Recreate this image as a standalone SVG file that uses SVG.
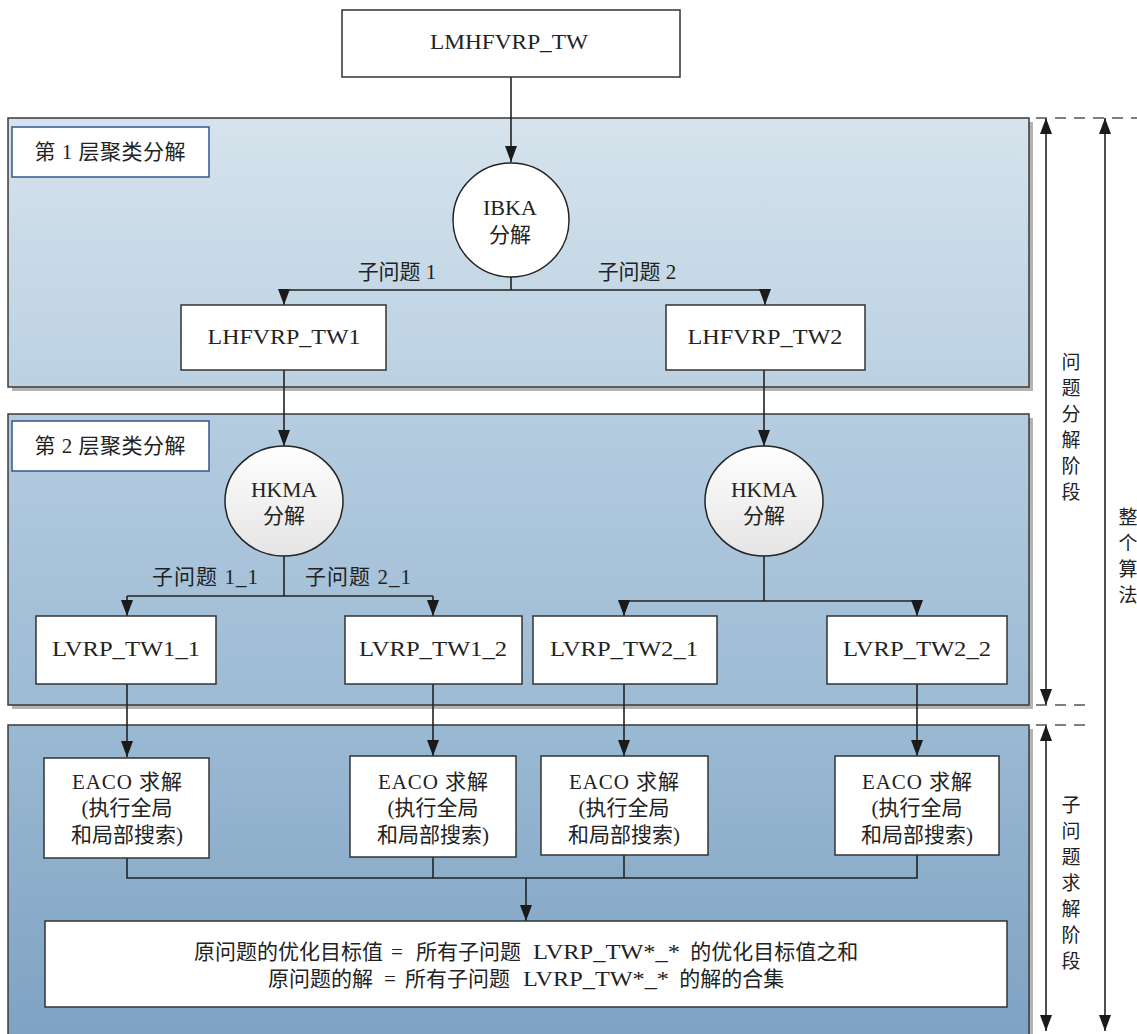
<svg xmlns="http://www.w3.org/2000/svg" width="1137" height="1034" viewBox="0 0 1137 1034">
<defs>
<linearGradient id="g1" x1="0" y1="0" x2="0" y2="1"><stop offset="0" stop-color="#d6e3ed"/><stop offset="1" stop-color="#bbd1e2"/></linearGradient>
<linearGradient id="g2" x1="0" y1="0" x2="0" y2="1"><stop offset="0" stop-color="#b5cce0"/><stop offset="1" stop-color="#9cbbd4"/></linearGradient>
<linearGradient id="g3" x1="0" y1="0" x2="0" y2="1"><stop offset="0" stop-color="#9ab9d3"/><stop offset="1" stop-color="#7ea2c3"/></linearGradient>
<linearGradient id="gc" x1="0" y1="0" x2="0" y2="1"><stop offset="0" stop-color="#ffffff"/><stop offset="1" stop-color="#e4e4e4"/></linearGradient>
<marker id="ah" viewBox="0 0 16 12" refX="16" refY="6" markerWidth="16" markerHeight="12" markerUnits="userSpaceOnUse" orient="auto-start-reverse"><path d="M0,0 L16,6 L0,12 z" fill="#1a1a1a"/></marker>
<style>
.panel{stroke:#3a3a3a;stroke-width:1.5}
.shadow{fill:#b3b3b3}
.box{fill:#fff;stroke:#333;stroke-width:1.5}
.lbl{fill:#fff;stroke:#34568c;stroke-width:1.5}
.circ{stroke:#222;stroke-width:1.5}
text{font-family:"Liberation Serif","Noto Sans CJK SC",serif;font-size:21px;fill:#222;text-anchor:middle}
.st{text-anchor:start}
.v{font-size:19px}
.conn{fill:none;stroke:#222;stroke-width:1.6}
.dash{fill:none;stroke:#555;stroke-width:1.5;stroke-dasharray:11 8}
</style>
</defs>
<rect width="1137" height="1034" fill="#fff"/>

<g id="panel1">
<rect class="shadow" x="12" y="122" width="1021" height="269"/>
<rect class="panel" x="8" y="118" width="1021" height="269" fill="url(#g1)"/>
</g>
<g id="panel2">
<rect class="shadow" x="12" y="418" width="1021" height="291"/>
<rect class="panel" x="8" y="414" width="1021" height="291" fill="url(#g2)"/>
</g>
<g id="panel3">
<rect class="shadow" x="12" y="729" width="1021" height="320"/>
<rect class="panel" x="8" y="725" width="1021" height="320" fill="url(#g3)"/>
</g>

<g id="label1"><rect class="lbl" x="12" y="127" width="197" height="50"/><text x="110" y="159" textLength="151" lengthAdjust="spacing">第 1 层聚类分解</text></g>
<g id="label2"><rect class="lbl" x="12" y="421" width="197" height="50"/><text x="110" y="453" textLength="151" lengthAdjust="spacing">第 2 层聚类分解</text></g>

<g id="connectors">
<line class="conn" x1="511" y1="77" x2="511" y2="162" marker-end="url(#ah)"/>
<line class="conn" x1="511" y1="277" x2="511" y2="290"/>
<line class="conn" x1="284" y1="290" x2="765" y2="290"/>
<line class="conn" x1="284" y1="290" x2="284" y2="305" marker-end="url(#ah)"/>
<line class="conn" x1="765" y1="290" x2="765" y2="305" marker-end="url(#ah)"/>
<line class="conn" x1="284" y1="370" x2="284" y2="446" marker-end="url(#ah)"/>
<line class="conn" x1="764" y1="370" x2="764" y2="446" marker-end="url(#ah)"/>
<line class="conn" x1="284" y1="556" x2="284" y2="596"/>
<line class="conn" x1="127" y1="596" x2="433" y2="596"/>
<line class="conn" x1="127" y1="596" x2="127" y2="616" marker-end="url(#ah)"/>
<line class="conn" x1="433" y1="596" x2="433" y2="616" marker-end="url(#ah)"/>
<line class="conn" x1="764" y1="556" x2="764" y2="601"/>
<line class="conn" x1="624" y1="601" x2="917" y2="601"/>
<line class="conn" x1="624" y1="601" x2="624" y2="616" marker-end="url(#ah)"/>
<line class="conn" x1="917" y1="601" x2="917" y2="616" marker-end="url(#ah)"/>
<line class="conn" x1="127" y1="684" x2="127" y2="757" marker-end="url(#ah)"/>
<line class="conn" x1="433" y1="684" x2="433" y2="756" marker-end="url(#ah)"/>
<line class="conn" x1="624" y1="684" x2="624" y2="756" marker-end="url(#ah)"/>
<line class="conn" x1="917" y1="684" x2="917" y2="756" marker-end="url(#ah)"/>
<polyline class="conn" points="127,857 127,878 917,878 917,855"/>
<line class="conn" x1="433" y1="857" x2="433" y2="878"/>
<line class="conn" x1="624" y1="855" x2="624" y2="878"/>
<line class="conn" x1="526" y1="878" x2="526" y2="921" marker-end="url(#ah)"/>
<line class="conn" x1="1046" y1="118" x2="1046" y2="705" marker-start="url(#ah)" marker-end="url(#ah)"/>
<line class="conn" x1="1046" y1="725" x2="1046" y2="1031" marker-start="url(#ah)" marker-end="url(#ah)"/>
<line class="conn" x1="1105" y1="118" x2="1105" y2="1031" marker-start="url(#ah)" marker-end="url(#ah)"/>
<line class="dash" x1="1036" y1="118" x2="1137" y2="118"/>
<line class="dash" x1="1036" y1="705" x2="1090" y2="705"/>
<line class="dash" x1="1036" y1="725" x2="1090" y2="725"/>
</g>

<g id="n-top"><rect class="box" x="342" y="10" width="338" height="67"/><text x="509" y="49" textLength="158" lengthAdjust="spacingAndGlyphs">LMHFVRP_TW</text></g>
<g id="n-ibka"><ellipse class="circ" cx="511" cy="220" rx="58" ry="57" fill="#fff"/><text x="510" y="215" textLength="54" lengthAdjust="spacingAndGlyphs">IBKA</text><text x="510" y="242">分解</text></g>
<text x="397" y="279">子问题 1</text>
<text x="637" y="279">子问题 2</text>
<g id="n-lh1"><rect class="box" x="181" y="305" width="205" height="65"/><text x="284" y="344" textLength="153" lengthAdjust="spacingAndGlyphs">LHFVRP_TW1</text></g>
<g id="n-lh2"><rect class="box" x="666" y="305" width="199" height="65"/><text x="765" y="344" textLength="155" lengthAdjust="spacingAndGlyphs">LHFVRP_TW2</text></g>
<g id="n-hkma1"><ellipse class="circ" cx="284" cy="501" rx="59" ry="55" fill="url(#gc)"/><text x="284" y="497" textLength="66" lengthAdjust="spacingAndGlyphs">HKMA</text><text x="284" y="523">分解</text></g>
<g id="n-hkma2"><ellipse class="circ" cx="764" cy="501" rx="59" ry="55" fill="url(#gc)"/><text x="764" y="497" textLength="66" lengthAdjust="spacingAndGlyphs">HKMA</text><text x="764" y="523">分解</text></g>
<text x="205" y="584" textLength="106" lengthAdjust="spacing">子问题 1_1</text>
<text x="358" y="584" textLength="106" lengthAdjust="spacing">子问题 2_1</text>
<g id="n-l11"><rect class="box" x="36" y="616" width="180" height="68"/><text x="126" y="656" textLength="148" lengthAdjust="spacingAndGlyphs">LVRP_TW1_1</text></g>
<g id="n-l12"><rect class="box" x="345" y="616" width="177" height="68"/><text x="433" y="656" textLength="148" lengthAdjust="spacingAndGlyphs">LVRP_TW1_2</text></g>
<g id="n-l21"><rect class="box" x="533" y="616" width="184" height="68"/><text x="624" y="656" textLength="148" lengthAdjust="spacingAndGlyphs">LVRP_TW2_1</text></g>
<g id="n-l22"><rect class="box" x="827" y="616" width="180" height="68"/><text x="917" y="656" textLength="148" lengthAdjust="spacingAndGlyphs">LVRP_TW2_2</text></g>
<g id="n-e1"><rect class="box" x="44" y="758" width="165" height="100"/><text x="127" y="789" textLength="110" lengthAdjust="spacing">EACO 求解</text><text x="127" y="815">(执行全局</text><text x="127" y="842">和局部搜索)</text></g>
<g id="n-e2"><rect class="box" x="350" y="756" width="166" height="101"/><text x="433" y="789" textLength="110" lengthAdjust="spacing">EACO 求解</text><text x="433" y="815">(执行全局</text><text x="433" y="842">和局部搜索)</text></g>
<g id="n-e3"><rect class="box" x="541" y="756" width="167" height="99"/><text x="624" y="789" textLength="110" lengthAdjust="spacing">EACO 求解</text><text x="624" y="815">(执行全局</text><text x="624" y="842">和局部搜索)</text></g>
<g id="n-e4"><rect class="box" x="835" y="756" width="164" height="99"/><text x="917" y="789" textLength="110" lengthAdjust="spacing">EACO 求解</text><text x="917" y="815">(执行全局</text><text x="917" y="842">和局部搜索)</text></g>
<g id="n-result"><rect class="box" x="45" y="921" width="962" height="86"/>
<text class="st" x="194" y="959">原问题的优化目标值 <tspan x="391">= </tspan><tspan x="416">所有子问题 </tspan><tspan x="533" textLength="147" lengthAdjust="spacingAndGlyphs">LVRP_TW*_*</tspan><tspan x="685"> 的优化目标值之和</tspan></text>
<text class="st" x="268" y="986">原问题的解 <tspan x="384">= </tspan><tspan x="405">所有子问题 </tspan><tspan x="523" textLength="146" lengthAdjust="spacingAndGlyphs">LVRP_TW*_*</tspan><tspan x="674"> 的解的合集</tspan></text>
</g>

<g id="side-labels">
<text class="v" x="1071" y="369">问</text><text class="v" x="1071" y="395">题</text><text class="v" x="1071" y="421">分</text><text class="v" x="1071" y="447">解</text><text class="v" x="1071" y="473">阶</text><text class="v" x="1071" y="499">段</text>
<text class="v" x="1071" y="812">子</text><text class="v" x="1071" y="838">问</text><text class="v" x="1071" y="864">题</text><text class="v" x="1071" y="890">求</text><text class="v" x="1071" y="916">解</text><text class="v" x="1071" y="942">阶</text><text class="v" x="1071" y="968">段</text>
<text class="v" x="1128" y="524">整</text><text class="v" x="1128" y="550">个</text><text class="v" x="1128" y="576">算</text><text class="v" x="1128" y="602">法</text>
</g>
</svg>
